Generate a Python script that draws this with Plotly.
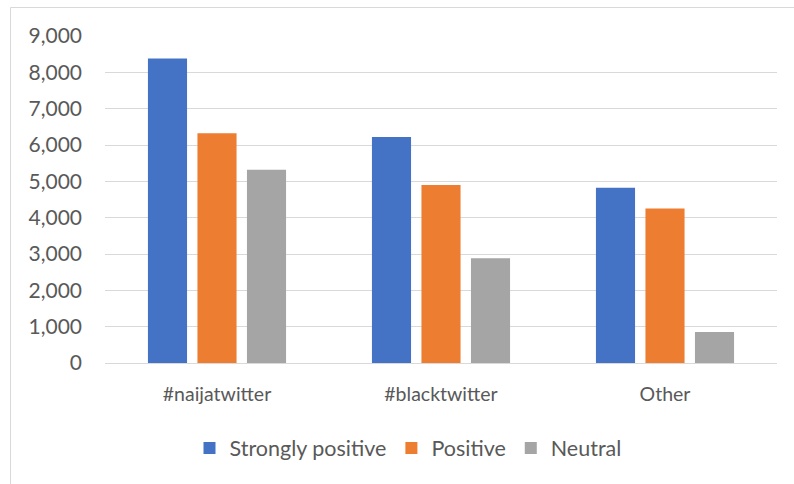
import plotly.graph_objects as go

categories = ["#naijatwitter", "#blacktwitter", "Other"]
strongly_positive = [8380, 6220, 4820]
positive = [6320, 4900, 4250]
neutral = [5320, 2880, 850]
series_names = ["Strongly positive", "Positive", "Neutral"]
colors = ["#4472C4", "#ED7D31", "#A5A5A5"]
y_ticks = [0, 1000, 2000, 3000, 4000, 5000, 6000, 7000, 8000, 9000]

FONT = "Lato, Carlito, Calibri, sans-serif"
TXT = "#595959"

fig = go.Figure()
for name, vals, col in zip(series_names, [strongly_positive, positive, neutral], colors):
    fig.add_trace(go.Bar(x=categories, y=vals, name=name, marker=dict(color=col, line=dict(width=0))))

L, R, T, B = 105, 17, 36, 121
W, H = 794, 484
pw, ph = W - L - R, H - T - B

fig.update_layout(
    width=W, height=H,
    margin=dict(l=L, r=R, t=T, b=B),
    paper_bgcolor="white", plot_bgcolor="white",
    barmode="group", bargap=0.337, bargroupgap=0.21,
    font=dict(family=FONT, size=19, color=TXT),
    showlegend=True,
    legend=dict(orientation="h", x=(408 - L) / pw, xanchor="center",
                y=(T + ph - 448) / ph, yanchor="middle",
                font=dict(family=FONT, size=21.5, color=TXT),
                traceorder="normal"),
    xaxis=dict(showline=True, linecolor="#d9d9d9", linewidth=1, ticks="",
               tickfont=dict(family=FONT, size=19.5, color=TXT), ticklabelstandoff=14),
    yaxis=dict(range=[0, 9000], tickvals=y_ticks, tickformat=",d",
               showgrid=True, gridcolor="#d9d9d9", gridwidth=1, zeroline=False,
               showline=False, ticks="", ticklabelstandoff=22,
               tickfont=dict(family=FONT, size=21, color=TXT)),
    shapes=[
        dict(type="line", xref="paper", yref="paper",
             x0=(10.5 - L) / pw, x1=(794 - L) / pw, y0=(T + ph - 7.5) / ph, y1=(T + ph - 7.5) / ph,
             line=dict(color="#d9d9d9", width=1)),
        dict(type="line", xref="paper", yref="paper",
             x0=(10.5 - L) / pw, x1=(10.5 - L) / pw, y0=(T + ph - 7.5) / ph, y1=(T + ph - 484) / ph,
             line=dict(color="#d9d9d9", width=1)),
    ],
)

fig.write_html("out.html", config={"displayModeBar": False},
               post_script="document.body.style.margin='0';document.body.style.overflow='hidden';")
